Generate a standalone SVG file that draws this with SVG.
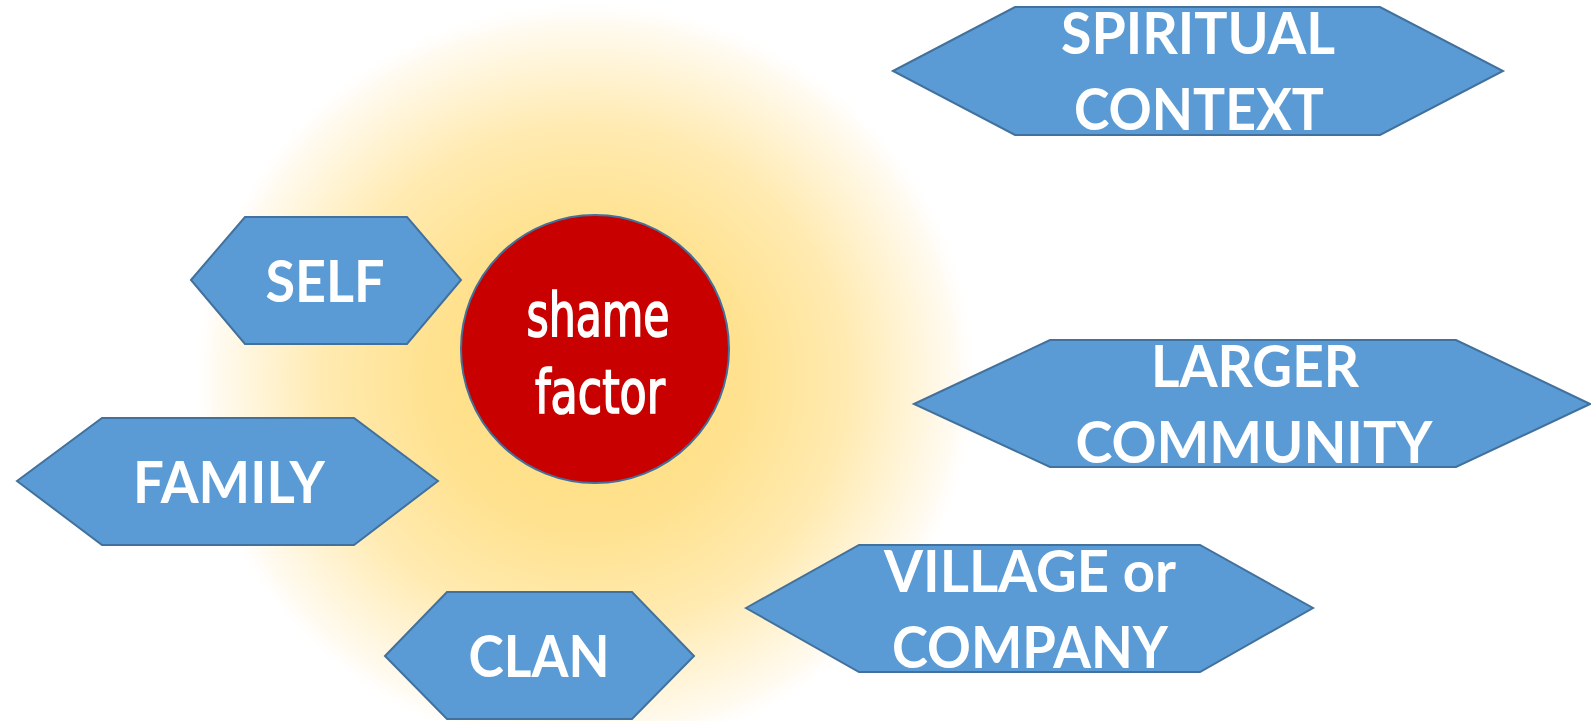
<svg xmlns="http://www.w3.org/2000/svg" width="1591" height="721" viewBox="0 0 1591 721">
<defs>
<radialGradient id="glow" cx="0.5" cy="0.5" r="0.5">
<stop offset="0" stop-color="#FFDD7C"/>
<stop offset="0.4" stop-color="#FFE290"/>
<stop offset="0.66" stop-color="#FFEAB0"/>
<stop offset="0.84" stop-color="#FFF5DA"/>
<stop offset="0.94" stop-color="#FFFBF2"/>
<stop offset="1" stop-color="#FFFFFF" stop-opacity="0"/>
</radialGradient>
</defs>
<style>
.hex{fill:#5B9BD5;stroke:#41719C;stroke-width:2;stroke-linejoin:miter}
.lbl{font-family:Lato,"Open Sans","Liberation Sans",sans-serif;font-weight:700;font-size:58px;fill:#FFFFFF;text-anchor:middle}
.core{font-family:"DejaVu Sans Condensed","DejaVu Sans",sans-serif;font-size:60px;fill:#FFFFFF;stroke:#FFFFFF;stroke-width:1.6;text-anchor:middle}
</style>
<rect width="1591" height="721" fill="#FFFFFF"/>
<ellipse cx="585" cy="378" rx="395" ry="380" fill="url(#glow)"/>
<g id="connectors"></g>
<g id="spiritual">
<polygon class="hex" points="893,71 1015,7 1380,7 1503,71 1380,135 1015,135"/>
<text class="lbl" x="1198" y="54" textLength="274" lengthAdjust="spacingAndGlyphs">SPIRITUAL</text>
<text class="lbl" x="1199" y="130" textLength="250" lengthAdjust="spacingAndGlyphs">CONTEXT</text>
</g>
<g id="self">
<polygon class="hex" points="191,280 245,217 407,217 461,280 407,344 245,344"/>
<text class="lbl" x="325" y="302" textLength="119" lengthAdjust="spacingAndGlyphs">SELF</text>
</g>
<g id="shame">
<circle cx="595" cy="349" r="134" fill="#C80000" stroke="#41719C" stroke-width="2"/>
<text class="core" x="598" y="336" textLength="143" lengthAdjust="spacingAndGlyphs">shame</text>
<text class="core" x="600" y="413" textLength="130" lengthAdjust="spacingAndGlyphs">factor</text>
</g>
<g id="larger">
<polygon class="hex" points="914,404 1050,340 1456,340 1590,404 1456,467 1050,467"/>
<text class="lbl" x="1255" y="387" textLength="208" lengthAdjust="spacingAndGlyphs">LARGER</text>
<text class="lbl" x="1254" y="463" textLength="357" lengthAdjust="spacingAndGlyphs">COMMUNITY</text>
</g>
<g id="family">
<polygon class="hex" points="17,481 102,418 354,418 438,481 354,545 102,545"/>
<text class="lbl" x="229" y="503" textLength="192" lengthAdjust="spacingAndGlyphs">FAMILY</text>
</g>
<g id="village">
<polygon class="hex" points="746,608 859,545 1200,545 1313,608 1200,672 859,672"/>
<text class="lbl" x="1030" y="592" textLength="292" lengthAdjust="spacingAndGlyphs">VILLAGE or</text>
<text class="lbl" x="1030" y="668" textLength="276" lengthAdjust="spacingAndGlyphs">COMPANY</text>
</g>
<g id="clan">
<polygon class="hex" points="385,656 447,592 632,592 694,656 632,719 447,719"/>
<text class="lbl" x="539" y="677" textLength="141" lengthAdjust="spacingAndGlyphs">CLAN</text>
</g>
</svg>
